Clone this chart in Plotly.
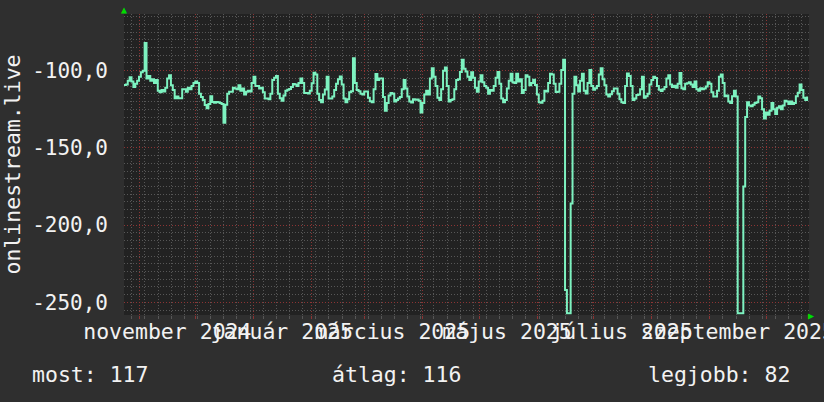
import plotly.graph_objects as go
import pandas as pd

# ---- data (daily values) ----
start_time = "2024-10-23 20:00"

vals_oct_dec = [
    -109.3, -109, -106.5, -104.3, -107, -110.5, -108.5, -106.5, -104, -101,
    -100, -82, -105, -103.5, -106.5, -105.6, -108, -106, -113, -114,
    -112.5, -113.5, -111, -105, -103, -109.5, -112.5, -117.9, -116.8, -117.9,
    -117.9, -112, -112, -113.6, -111, -112, -110, -108, -107, -108,
    -115, -117, -119, -122.2, -124.4, -121.6, -116.5, -120.2, -120.7, -120.3,
    -120.5, -121, -121.5, -133.7, -122, -115, -113.6, -113.6, -111, -111.5,
    -112, -109.5,
]
vals_dec_feb = [
    -113, -111.5, -115.5, -113.6, -113, -113.5, -108, -103.9, -110, -110,
    -111.5, -111, -114, -118, -118, -118.5, -115, -106, -104.5, -103.5,
    -115, -117.9, -119.5, -116, -113, -112.3, -111.8, -110.5, -108.6, -109,
    -110, -108, -105, -108, -114.5, -114.5, -114.7, -113, -108.2, -101.3,
    -102.5, -115, -119, -120.5, -115.5, -112.2, -104, -118, -118, -116.8,
    -112.5, -108.5, -105.5, -103.7, -109, -118, -120.5, -118.5, -114, -113.3,
    -92,
]
vals_feb_apr = [
    -108, -112.5, -113.3, -115, -115.5, -113.5, -113.5, -117.5, -119.8, -120.5,
    -112, -102.2, -106, -105, -105, -117, -126, -121, -116, -114.5,
    -115, -120, -119, -118, -117, -112, -106, -111.5, -116.8, -120,
    -120.6, -118.5, -118.8, -118.6, -119.5, -127, -121, -115.5, -113, -115.5,
    -105, -98.5, -104, -110, -117.5, -119, -112, -100, -98, -110,
    -120, -119, -118.5, -112, -106, -105.6, -100.8, -93, -98.8, -100.6,
]
vals_apr_jun = [
    -104, -106, -101, -104.5, -111, -113.6, -107, -103, -107.5, -110,
    -111, -115, -112.5, -113, -110, -104.5, -100.8, -108.5, -118, -120.5,
    -119, -111.5, -106.5, -102, -107.5, -108, -102, -107, -105.5, -114.5,
    -112.5, -103, -104, -109.5, -108, -105.8, -109.3, -115.5, -120.5, -120.7,
    -119.5, -113, -113.5, -108, -102, -102.5, -108.5, -113.8, -113.7, -108.5,
    -99.5, -93, -242, -257, -257, -186, -115, -104, -109.5, -113.5,
    -106.5, -102, -113,
]
vals_jun_aug = [
    -114.7, -108, -99.5, -110, -112.3, -111.4, -110, -102.5, -98.5, -105.5,
    -109.5, -115.5, -116.8, -115.3, -113.3, -111.5, -111.5, -115, -118.5, -120.5,
    -121, -110, -101.8, -103.5, -110, -119, -118, -115.8, -115.5, -112,
    -104, -117.5, -116.6, -115, -109, -106, -104, -104.8, -110, -112.3,
    -113.2, -112, -110.6, -105, -103, -109, -110.5, -109.8, -111, -108.5,
    -101.5, -111.4, -112, -108.5, -108.2, -107.5, -109, -110.5, -107, -112,
    -113,
]
vals_aug_oct = [
    -111.4, -112, -111.5, -110.3, -107.5, -108.5, -114, -116.8, -116.8, -113,
    -104, -102.5, -108, -116.5, -116, -120, -121, -116.5, -113, -116.8,
    -257, -257, -257, -175, -130, -120.5, -122.5, -123, -122, -121,
    -120.5, -116.8, -117.9, -125, -131, -127, -128.5, -126, -121, -125,
    -128, -124, -123, -125, -122.5, -119.5, -120, -121.5, -120, -121.5,
    -121, -116.5, -114.3, -109, -112.5, -117.5, -119, -116.8,
]

values = vals_oct_dec + vals_dec_feb + vals_feb_apr + vals_apr_jun + vals_jun_aug + vals_aug_oct
dates = pd.date_range(start_time, periods=len(values), freq="D")

x_range = ["2024-10-23 20:00", "2025-10-23 20:00"]
month_ticks = list(pd.date_range("2024-11-01", "2025-10-01", freq="MS"))
month_labels = ["november 2024", "", "január 2025", "", "március 2025", "",
                "május 2025", "", "július 2025", "", "szeptember 2025", ""]

y_range = [-258.2, -63.3]
y_ticks = [-100, -150, -200, -250]
y_labels = ["-100,0", "-150,0", "-200,0", "-250,0"]
y_title = "onlinestream.live"

legend_texts = ["most: 117", "átlag: 116", "legjobb: 82"]
legend_px = [30, 330, 646]

# ---- figure ----
W, H = 824, 402
L, R, T, B = 124, 15, 14, 87
pw, ph = W - L - R, H - T - B
FONT = "DejaVu Sans Mono"
TXT = "#f2f2f2"
RED = "#8c3434"
GREY = "#575757"
DOTS = "1px,2px"

fig = go.Figure()
fig.add_trace(go.Scatter(
    x=dates, y=values, mode="lines",
    line=dict(color="#7df2c0", width=2, shape="hv"),
    hoverinfo="skip",
))

annotations = []
for txt, px in zip(legend_texts, legend_px):
    annotations.append(dict(
        text=txt, xref="paper", yref="paper",
        x=(px - L) / pw, y=(H - B - 374) / ph,
        xanchor="left", yanchor="middle", showarrow=False,
        font=dict(family=FONT, size=21.5, color=TXT),
    ))
annotations.append(dict(text="▲", xref="paper", yref="paper", x=0, y=1,
                        xanchor="center", yanchor="bottom", showarrow=False,
                        font=dict(family=FONT, size=10, color="#00dd00"), yshift=-3))
annotations.append(dict(text="▶", xref="paper", yref="paper", x=1, y=0,
                        xanchor="left", yanchor="middle", showarrow=False,
                        font=dict(family=FONT, size=10, color="#00dd00"), xshift=-3))

fig.update_layout(
    width=W, height=H,
    margin=dict(l=L, r=R, t=T, b=B, autoexpand=False),
    paper_bgcolor="#2f2f2f", plot_bgcolor="#222222",
    font=dict(family=FONT, size=21, color=TXT),
    showlegend=False,
    hovermode=False,
    annotations=annotations,
    xaxis=dict(
        type="date", range=x_range, tickmode="array",
        tickvals=month_ticks, ticktext=month_labels,
        ticklabelshift=28, tickangle=0, ticklabeloverflow="allow",
        ticklabelstandoff=-6,
        showgrid=True, gridcolor=RED, griddash=DOTS, gridwidth=1,
        ticks="outside", ticklen=3, tickcolor=RED,
        minor=dict(dtick=7 * 86400000, tick0="2024-10-28", showgrid=True,
                   gridcolor=GREY, griddash=DOTS, ticks="outside",
                   ticklen=3, tickcolor=GREY),
        zeroline=False, showline=False, automargin=False,
        tickfont=dict(family=FONT, size=21.5, color=TXT),
    ),
    yaxis=dict(
        range=y_range, tickmode="array", tickvals=y_ticks, ticktext=y_labels,
        showgrid=True, gridcolor=RED, griddash=DOTS, gridwidth=1,
        ticks="", ticklabelstandoff=15,
        minor=dict(dtick=5, tick0=0, showgrid=True, gridcolor=GREY, griddash=DOTS),
        zeroline=False, showline=False, automargin=False,
        title=dict(text=y_title, standoff=8,
                   font=dict(family=FONT, size=21.5, color=TXT)),
        tickfont=dict(family=FONT, size=21, color=TXT),
    ),
)

fig.write_html("out.html", config={"displayModeBar": False, "staticPlot": True},
               post_script="document.body.style.margin='0';")
